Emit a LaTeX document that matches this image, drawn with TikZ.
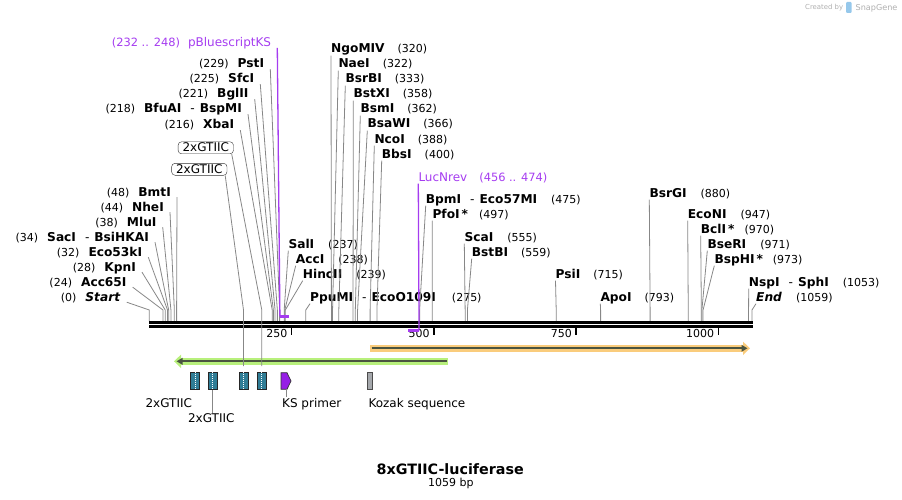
\documentclass[tikz,border=0pt]{standalone}
\usepackage{fontspec}
\setmainfont{DejaVu Sans}[ItalicFont={DejaVu Sans Oblique},BoldItalicFont={DejaVu Sans Bold Oblique}]
\usetikzlibrary{calc,arrows.meta}

\definecolor{cutgray}{RGB}{135,135,135}
\definecolor{primerpurple}{RGB}{165,60,240}
\definecolor{kspurple}{RGB}{150,30,230}
\definecolor{gtiicteal}{RGB}{48,125,150}
\definecolor{kozakgray}{RGB}{165,168,172}
\definecolor{glowgreen}{RGB}{184,240,124}
\definecolor{gloworange}{RGB}{250,204,124}
\definecolor{featdark}{RGB}{74,84,64}
\definecolor{markgray}{RGB}{175,175,175}
\definecolor{markblue}{RGB}{150,200,235}

% position on the sequence (bp) -> x
\newcommand{\bpx}[1]{149.3+0.5691*#1}
\newcommand{\sitenum}[1]{{\mdseries\fontsize{11}{13}\selectfont #1}}
\newcommand{\cutsep}{\hspace{9pt}{\mdseries -}\hspace{5pt}}

\tikzset{
  leftcut/.style={anchor=base east, inner xsep=6pt, inner ysep=0.5pt, text height=9pt, text depth=0.5pt, font=\fontsize{12.2}{14}\selectfont\bfseries},
  rightcut/.style={anchor=base west, inner xsep=0pt, inner ysep=0.5pt, text height=9pt, text depth=2pt, font=\fontsize{12.2}{14}\selectfont\bfseries},
  primertext/.style={text=primerpurple, font=\fontsize{12}{14}\selectfont},
  cutline/.style={draw=cutgray, line width=0.8pt},
  primerline/.style={draw=primerpurple, line width=1.3pt},
  primerbracket/.style={draw=primerpurple, line width=2.5pt},
  featbox/.style={draw=black!80, rounded corners=3.5pt, fill=white, inner xsep=4.5pt, inner ysep=1pt, text height=9pt, text depth=1pt, font=\fontsize{12}{14}\selectfont},
  featlabel/.style={anchor=base, inner sep=1pt, text height=9pt, text depth=2pt, font=\fontsize{12}{14}\selectfont},
  gtiic/.style={draw=black!85, line width=0.7pt, fill=gtiicteal, minimum width=9pt, minimum height=16.6pt, inner sep=0pt},
  ticklabel/.style={anchor=base east, inner sep=0pt, font=\fontsize{11}{13}\selectfont},
}

\begin{document}
\begin{tikzpicture}[x=1pt,y=-1pt]
\useasboundingbox (0,0) rectangle (902,500);

% Reference points
\coordinate (bend) at (0,310);
\coordinate (bb0) at (149,324.2);
\coordinate (bb1) at (752.7,324.2);

% Cut sites on the backbone
\coordinate (s0) at ({\bpx{0}},321);
\coordinate (s24) at ({\bpx{24}},321);
\coordinate (s28) at ({\bpx{28}},321);
\coordinate (s32) at ({\bpx{32}},321);
\coordinate (s34) at ({\bpx{34}},321);
\coordinate (s38) at ({\bpx{38}},321);
\coordinate (s44) at ({\bpx{44}},321);
\coordinate (s48) at ({\bpx{48}},321);
\coordinate (s216) at ({\bpx{216}},321);
\coordinate (s218) at ({\bpx{218}},321);
\coordinate (s221) at ({\bpx{221}},321);
\coordinate (s225) at ({\bpx{225}},321);
\coordinate (s229) at ({\bpx{229}},321);
\coordinate (s237) at ({\bpx{237}},321);
\coordinate (s238) at ({\bpx{238}},321);
\coordinate (s239) at ({\bpx{239}},321);
\coordinate (s275) at ({\bpx{275}},321);
\coordinate (s320) at ({\bpx{320}},321);
\coordinate (s322) at ({\bpx{322}},321);
\coordinate (s333) at ({\bpx{333}},321);
\coordinate (s358) at ({\bpx{358}},321);
\coordinate (s362) at ({\bpx{362}},321);
\coordinate (s366) at ({\bpx{366}},321);
\coordinate (s388) at ({\bpx{388}},321);
\coordinate (s400) at ({\bpx{400}},321);
\coordinate (s475) at ({\bpx{475}},321);
\coordinate (s497) at ({\bpx{497}},321);
\coordinate (s555) at ({\bpx{555}},321);
\coordinate (s559) at ({\bpx{559}},321);
\coordinate (s715) at ({\bpx{715}},321);
\coordinate (s793) at ({\bpx{793}},321);
\coordinate (s880) at ({\bpx{880}},321);
\coordinate (s947) at ({\bpx{947}},321);
\coordinate (s970) at ({\bpx{970}},321);
\coordinate (s971) at ({\bpx{971}},321);
\coordinate (s973) at ({\bpx{973}},321);
\coordinate (s1053) at ({\bpx{1053}},321);
\coordinate (s1059) at ({\bpx{1059}},321);

% Primer ends
\coordinate (k232) at ({\bpx{229.5}},316.5);
\coordinate (k248) at ({\bpx{246}},316.5);
\coordinate (l456) at ({\bpx{455}},330.5);
\coordinate (l474) at ({\bpx{474}},330.5);

% Feature tops
\coordinate (f3top) at (243.5,366);
\coordinate (f4top) at (261.8,366);

% Labels left of their sites
\node[leftcut, primertext] (pbks) at (277.3,46.7) {{\fontsize{11.4}{13}\selectfont(232 .. 248)}\hspace{8pt}pBluescriptKS};
\node[leftcut] (pst) at (270.3,68) {\sitenum{(229)}\hspace{9pt}PstI};
\node[leftcut] (sfc) at (260.3,83) {\sitenum{(225)}\hspace{9pt}SfcI};
\node[leftcut] (bgl) at (254.7,98) {\sitenum{(221)}\hspace{9pt}BglII};
\node[leftcut] (bfu) at (248,113) {\sitenum{(218)}\hspace{9pt}BfuAI\cutsep BspMI};
\node[leftcut] (xba) at (240.3,129) {\sitenum{(216)}\hspace{9pt}XbaI};
\node[featbox] (gta) at (205.8,147.8) {2xGTIIC};
\node[featbox] (gtb) at (199.3,169.3) {2xGTIIC};
\node[leftcut] (bmt) at (177,196) {\sitenum{(48)}\hspace{9pt}BmtI};
\node[leftcut] (nhe) at (170,211) {\sitenum{(44)}\hspace{9pt}NheI};
\node[leftcut] (mlu) at (162.7,226) {\sitenum{(38)}\hspace{9pt}MluI};
\node[leftcut] (sac) at (155,241) {\sitenum{(34)}\hspace{9pt}SacI\cutsep BsiHKAI};
\node[leftcut] (eco53) at (148.3,256) {\sitenum{(32)}\hspace{9pt}Eco53kI};
\node[leftcut] (kpn) at (142,271) {\sitenum{(28)}\hspace{9pt}KpnI};
\node[leftcut] (acc65) at (132.7,286) {\sitenum{(24)}\hspace{9pt}Acc65I};
\node[leftcut] (start) at (126.7,301) {\sitenum{(0)}\hspace{9pt}\textit{Start}};

% Labels right of their sites
\node[rightcut] (ngo) at (331,53) {NgoMIV\hspace{13pt}\sitenum{(320)}};
\node[rightcut] (nae) at (338.3,68) {NaeI\hspace{13pt}\sitenum{(322)}};
\node[rightcut] (bsrb) at (345.3,83) {BsrBI\hspace{13pt}\sitenum{(333)}};
\node[rightcut] (bstx) at (353.3,98) {BstXI\hspace{13pt}\sitenum{(358)}};
\node[rightcut] (bsm) at (360.3,113) {BsmI\hspace{13pt}\sitenum{(362)}};
\node[rightcut] (bsaw) at (367.3,128) {BsaWI\hspace{13pt}\sitenum{(366)}};
\node[rightcut] (nco) at (374.3,143) {NcoI\hspace{13pt}\sitenum{(388)}};
\node[rightcut] (bbs) at (381.7,158) {BbsI\hspace{13pt}\sitenum{(400)}};
\node[rightcut, primertext] (lucn) at (418.3,181) {LucNrev\hspace{12pt}{\fontsize{11.4}{13}\selectfont(456 .. 474)}};
\node[rightcut] (bpm) at (425.7,203) {BpmI\cutsep Eco57MI\hspace{14pt}\sitenum{(475)}};
\node[rightcut] (pfo) at (432.3,218) {PfoI\hspace{2pt}*\hspace{11pt}\sitenum{(497)}};
\node[rightcut] (sal) at (288.3,248) {SalI\hspace{14pt}\sitenum{(237)}};
\node[rightcut] (acc) at (295.7,263) {AccI\hspace{14pt}\sitenum{(238)}};
\node[rightcut] (hinc) at (302.7,278) {HincII\hspace{14pt}\sitenum{(239)}};
\node[rightcut] (ppu) at (310,301) {PpuMI\cutsep EcoO109I\hspace{16pt}\sitenum{(275)}};
\node[rightcut] (sca) at (464.3,241) {ScaI\hspace{14pt}\sitenum{(555)}};
\node[rightcut] (bstb) at (471.7,256) {BstBI\hspace{13pt}\sitenum{(559)}};
\node[rightcut] (psi) at (555.5,278) {PsiI\hspace{13pt}\sitenum{(715)}};
\node[rightcut] (apo) at (600.3,301) {ApoI\hspace{13pt}\sitenum{(793)}};
\node[rightcut] (bsrg) at (649.3,197) {BsrGI\hspace{14pt}\sitenum{(880)}};
\node[rightcut] (econ) at (687.7,218) {EcoNI\hspace{14pt}\sitenum{(947)}};
\node[rightcut] (bcl) at (700.7,233) {BclI\hspace{2pt}*\hspace{10pt}\sitenum{(970)}};
\node[rightcut] (bser) at (707.3,248) {BseRI\hspace{14pt}\sitenum{(971)}};
\node[rightcut] (bsph) at (714.3,263) {BspHI\hspace{2pt}*\hspace{10pt}\sitenum{(973)}};
\node[rightcut] (nsp) at (748.7,286) {NspI\cutsep SphI\hspace{14pt}\sitenum{(1053)}};
\node[rightcut] (fin) at (756,301) {\textit{End}\hspace{14pt}\sitenum{(1059)}};

% Lines from the left-hand labels
\draw[cutline] (pst.south east) -- (s229 |- bend) -- (s229);
\draw[cutline] (sfc.south east) -- (s225 |- bend) -- (s225);
\draw[cutline] (bgl.south east) -- (s221 |- bend) -- (s221);
\draw[cutline] (bfu.south east) -- (s218 |- bend) -- (s218);
\draw[cutline] (xba.south east) -- (s216 |- bend) -- (s216);
\draw[cutline] (bmt.south east) -- (s48 |- bend) -- (s48);
\draw[cutline] (nhe.south east) -- (s44 |- bend) -- (s44);
\draw[cutline] (mlu.south east) -- (s38 |- bend) -- (s38);
\draw[cutline] (sac.south east) -- (s34 |- bend) -- (s34);
\draw[cutline] (eco53.south east) -- (s32 |- bend) -- (s32);
\draw[cutline] (kpn.south east) -- (s28 |- bend) -- (s28);
\draw[cutline] (acc65.south east) -- (s24 |- bend) -- (s24);
\draw[cutline] (start.south east) -- (s0 |- bend) -- (s0);

% Lines from the right-hand labels
\draw[cutline] (ngo.south west) -- (s320 |- bend) -- (s320);
\draw[cutline] (nae.south west) -- (s322 |- bend) -- (s322);
\draw[cutline] (bsrb.south west) -- (s333 |- bend) -- (s333);
\draw[cutline] (bstx.south west) -- (s358 |- bend) -- (s358);
\draw[cutline] (bsm.south west) -- (s362 |- bend) -- (s362);
\draw[cutline] (bsaw.south west) -- (s366 |- bend) -- (s366);
\draw[cutline] (nco.south west) -- (s388 |- bend) -- (s388);
\draw[cutline] (bbs.south west) -- (s400 |- bend) -- (s400);
\draw[cutline] (bpm.south west) -- (s475 |- bend) -- (s475);
\draw[cutline] (pfo.south west) -- (s497 |- bend) -- (s497);
\draw[cutline] (sal.south west) -- (s237 |- bend) -- (s237);
\draw[cutline] (acc.south west) -- (s238 |- bend) -- (s238);
\draw[cutline] (hinc.south west) -- (s239 |- bend) -- (s239);
\draw[cutline] (ppu.south west) -- (s275 |- bend) -- (s275);
\draw[cutline] (sca.south west) -- (s555 |- bend) -- (s555);
\draw[cutline] (bstb.south west) -- (s559 |- bend) -- (s559);
\draw[cutline] (psi.south west) -- (s715 |- bend) -- (s715);
\draw[cutline] (apo.south west) -- (s793 |- bend) -- (s793);
\draw[cutline] (bsrg.south west) -- (s880 |- bend) -- (s880);
\draw[cutline] (econ.south west) -- (s947 |- bend) -- (s947);
\draw[cutline] (bcl.south west) -- (s970 |- bend) -- (s970);
\draw[cutline] (bser.south west) -- (s971 |- bend) -- (s971);
\draw[cutline] (bsph.south west) -- (s973 |- bend) -- (s973);
\draw[cutline] (nsp.south west) -- (s1053 |- bend) -- (s1053);
\draw[cutline] (fin.south west) -- (s1059 |- bend) -- (s1059);

% Backbone
\draw[line width=3pt, double=white, double distance=1pt] (bb0) -- (bb1);

% Ticks
\coordinate (t250) at ({\bpx{250}},327.5);
\coordinate (t500) at ({\bpx{500}},327.5);
\coordinate (t750) at ({\bpx{750}},327.5);
\coordinate (t1000) at ({\bpx{1000}},327.5);
\draw[line width=1.5pt] (t250) -- ++(0,7);
\draw[line width=1.5pt] (t500) -- ++(0,7);
\draw[line width=1.5pt] (t750) -- ++(0,7);
\draw[line width=1.5pt] (t1000) -- ++(0,7);
\node[ticklabel] (n250) at ([shift={(-4,10)}]t250) {250};
\node[ticklabel] (n500) at ([shift={(-4,10)}]t500) {500};
\node[ticklabel] (n750) at ([shift={(-4,10)}]t750) {750};
\node[ticklabel] (n1000) at ([shift={(-4,10)}]t1000) {1000};

% Primers
\draw[primerline] (pbks.south east) -- (k232);
\draw[primerbracket] (k232) -- (k248);
\draw[primerline] (lucn.south west) -- (l474);
\draw[primerbracket] (l474) -- (l456);

% Feature arrows
\coordinate (luc0) at (448,361.3);
\coordinate (luc1) at (174,361.3);
\coordinate (orf0) at (370,348.3);
\coordinate (orf1) at (750,348.3);
\draw[glowgreen, line width=6.5pt, -{Triangle[length=7pt,width=13pt]}] (luc0) -- (luc1);
\draw[featdark, line width=2.2pt, -{Triangle[length=6pt,width=6.5pt]}] ([xshift=-1.5pt]luc0) -- ([xshift=2.5pt]luc1);
\draw[gloworange, line width=6.5pt, -{Triangle[length=7pt,width=13pt]}] (orf0) -- (orf1);
\draw[featdark, line width=2.2pt, -{Triangle[length=6pt,width=6.5pt]}] ([xshift=1.5pt]orf0) -- ([xshift=-2.5pt]orf1);

% Lines from the boxed labels
\draw[cutline] ([xshift=-2pt]gta.south east) -- (f4top |- bend) -- (f4top);
\draw[cutline] ([xshift=-2pt]gtb.south east) -- (f3top |- bend) -- (f3top);

% Features
\node[gtiic] (f1) at (195.3,381) {};
\node[gtiic] (f2) at (212.8,381) {};
\node[gtiic] (f3) at (243.5,381) {};
\node[gtiic] (f4) at (261.8,381) {};
\draw[white, line width=1.2pt, dash pattern=on 1pt off 1pt] (f1.north) -- (f1.south);
\draw[white, line width=1.2pt, dash pattern=on 1pt off 1pt] (f2.north) -- (f2.south);
\draw[white, line width=1.2pt, dash pattern=on 1pt off 1pt] (f3.north) -- (f3.south);
\draw[white, line width=1.2pt, dash pattern=on 1pt off 1pt] (f4.north) -- (f4.south);
\draw[fill=kspurple, draw=black!80, line width=0.7pt] (281,372.7) -- (287,372.7) -- (291,381) -- (287,389.3) -- (281,389.3) -- cycle;
\coordinate (ksb) at (286.3,389.3);
\node[draw=black!70, fill=kozakgray, line width=0.7pt, minimum width=5pt, minimum height=16.6pt, inner sep=0pt] (koz) at (369.8,381) {};

% Feature labels
\node[featlabel] (gtl1) at (168.8,407) {2xGTIIC};
\node[featlabel] (gtl2) at (211.3,422.7) {2xGTIIC};
\node[featlabel, anchor=base west] (ksl) at (281,407) {KS primer};
\node[featlabel, anchor=base west] (kozl) at (367.3,407) {Kozak sequence};
\draw[cutline] (f2.south) -- (f2.south |- gtl2.north);
\draw[cutline] (ksb) -- (ksb |- ksl.north);

% Title
\node[anchor=base, inner sep=0pt, font=\fontsize{14.3}{16}\selectfont\bfseries] (title) at (450.2,474) {8xGTIIC-luciferase};
\node[anchor=base, inner sep=0pt, font=\fontsize{11}{13}\selectfont] (size) at (450.8,486) {1059 bp};

% Watermark
\node[anchor=base west, inner sep=0pt, text=markgray, font=\fontsize{6.9}{8}\selectfont] (made) at (805,9.5) {Created by};
\fill[markblue, rounded corners=1pt] (846,2) rectangle (851.5,13);
\node[anchor=base west, inner sep=0pt, text=markgray, font=\fontsize{8.1}{10}\selectfont] (sg) at (855.5,10.5) {SnapGene};

\end{tikzpicture}
\end{document}
